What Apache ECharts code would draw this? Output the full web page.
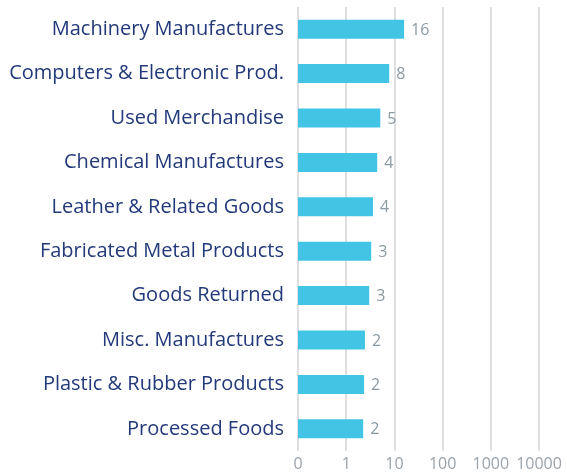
<!DOCTYPE html>
<html><head><meta charset="utf-8">
<script src="https://cdn.jsdelivr.net/npm/echarts@6/dist/echarts.min.js"></script>
<style>html,body{margin:0;padding:0;background:#fff}#c{width:567px;height:473px}</style>
</head><body><div id="c"></div>
<script>
const categories = ["Machinery Manufactures","Computers & Electronic Prod.","Used Merchandise","Chemical Manufactures","Leather & Related Goods","Fabricated Metal Products","Goods Returned","Misc. Manufactures","Plastic & Rubber Products","Processed Foods"];
const values = [15.9, 7.8, 5.1, 4.4, 3.6, 3.3, 3.0, 2.45, 2.35, 2.25];
const xTickLabels = {"0.1":"0","1":"1","10":"10","100":"100","1000":"1000","10000":"10000"};
const axisMin = 0.1, axisMax = 10000;

const chart = echarts.init(document.getElementById('c'), null, {renderer:'canvas'});
chart.setOption({
  animation:false,
  grid:{left:298, right:28, top:7, bottom:22},
  xAxis:{
    type:'log', logBase:10, min:axisMin, max:axisMax,
    axisLine:{show:false}, axisTick:{show:false},
    splitLine:{show:true, lineStyle:{color:'#d4d4d4', width:1.5}},
    axisLabel:{color:'#9aa3ab', fontSize:16, fontFamily:'Open Sans', margin:5,
      formatter:function(v){ const k=String(+(+v).toPrecision(6)); return xTickLabels[k]!==undefined?xTickLabels[k]:k; }}
  },
  yAxis:{
    type:'category', data:categories, inverse:true,
    axisLine:{show:false}, axisTick:{show:false},
    axisLabel:{color:'#22397a', fontSize:20, fontFamily:'Open Sans', margin:14}
  },
  series:[{
    type:'custom',
    data: values.map((v,i)=>[v,i]),
    encode:{x:0, y:1},
    renderItem:function(params, api){
      const v = api.value(0), idx = api.value(1);
      const start = api.coord([axisMin, idx]);
      const end = api.coord([v, idx]);
      const h = 19;
      return {type:'group', children:[
        {type:'rect', shape:{x:start[0], y:start[1]-h/2, width:end[0]-start[0], height:h},
         style:{fill:'#42c5e4'}},
        {type:'text', x:end[0]+7, y:end[1]+1,
         style:{text:String(Math.round(v)), fill:'#8b9aa3', font:'16px "Open Sans"', textAlign:'left', textVerticalAlign:'middle'}}
      ]};
    }
  }]
});
</script></body></html>
